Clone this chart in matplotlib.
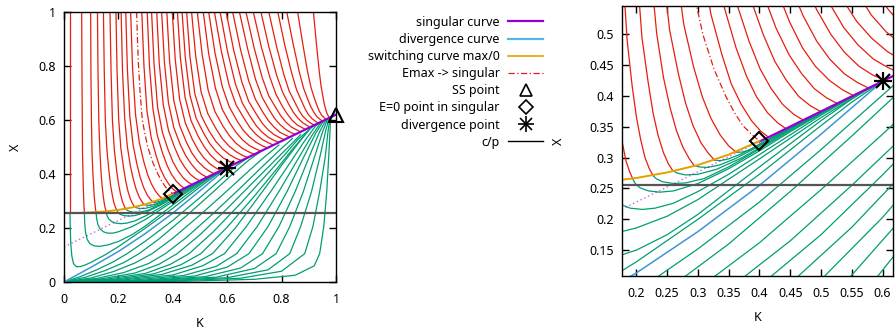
import matplotlib
matplotlib.use("Agg")
import matplotlib.pyplot as plt
from matplotlib.lines import Line2D
from matplotlib.legend_handler import HandlerTuple

plt.rcParams['font.family'] = ['Noto Sans', 'DejaVu Sans']
plt.rcParams['font.size'] = 9

RED = '#e51e10'
GREEN = '#009e73'
BLUE = '#3d95d6'
PURPLE = '#9400d3'
ORANGE = '#e69f00'

# ---- special curves (K, X) ----
singular_K = [0.0, 0.4, 0.6, 1.0]
singular_X = [0.13, 0.326, 0.424, 0.62]
divergence_K = [0.0, 0.1, 0.2, 0.3, 0.4, 0.5, 0.6]
divergence_X = [0.0, 0.055, 0.113, 0.18, 0.255, 0.338, 0.424]
switch_K = [0.022, 0.06, 0.1, 0.15, 0.2, 0.25, 0.3, 0.35, 0.4]
switch_X = [0.2555, 0.256, 0.258, 0.261, 0.267, 0.276, 0.288, 0.305, 0.327]
emax_K = [0.267, 0.27, 0.274, 0.28, 0.288, 0.298, 0.308, 0.326, 0.345, 0.36, 0.373, 0.388, 0.4]
emax_X = [1.0, 0.9, 0.8, 0.7, 0.6, 0.546, 0.5, 0.444, 0.4, 0.372, 0.352, 0.337, 0.327]
c_over_p = 0.2555

ss_point = (1.0, 0.62)
e0_point = (0.4, 0.327)
div_point = (0.6, 0.424)

# ---- red trajectories ending on the switching curve ----
red_switch = [
    [(0.022, 1.0), (0.022, 0.2555)],
    [(0.065, 1.0), (0.066, 0.78), (0.068, 0.48), (0.071, 0.35), (0.073, 0.29), (0.075, 0.256)],
    [(0.098, 1.0), (0.099, 0.777), (0.101, 0.592), (0.103, 0.481), (0.106, 0.406), (0.109, 0.354),
     (0.111, 0.317), (0.114, 0.288), (0.116, 0.269), (0.118, 0.258)],
    [(0.123, 1.0), (0.125, 0.778), (0.128, 0.594), (0.132, 0.483), (0.136, 0.409), (0.14, 0.357),
     (0.144, 0.32), (0.148, 0.291), (0.152, 0.272), (0.155, 0.261)],
    [(0.145, 1.0), (0.148, 0.78), (0.152, 0.596), (0.158, 0.486), (0.165, 0.413), (0.171, 0.361),
     (0.177, 0.325), (0.183, 0.295), (0.189, 0.277), (0.194, 0.266)],
    [(0.169, 1.0), (0.173, 0.781), (0.178, 0.599), (0.185, 0.49), (0.193, 0.417), (0.2, 0.366),
     (0.207, 0.329), (0.214, 0.3), (0.221, 0.282), (0.227, 0.271)],
    [(0.191, 1.0), (0.195, 0.784), (0.201, 0.603), (0.209, 0.495), (0.219, 0.423), (0.227, 0.373),
     (0.235, 0.337), (0.244, 0.308), (0.252, 0.29), (0.259, 0.279)],
    [(0.21, 1.0), (0.215, 0.786), (0.223, 0.608), (0.233, 0.501), (0.244, 0.43), (0.255, 0.38),
     (0.265, 0.344), (0.276, 0.316), (0.286, 0.298), (0.294, 0.287)],
    [(0.227, 1.0), (0.233, 0.789), (0.242, 0.613), (0.254, 0.507), (0.268, 0.437), (0.28, 0.388),
     (0.292, 0.352), (0.305, 0.324), (0.317, 0.307), (0.327, 0.296)],
    [(0.245, 1.0), (0.252, 0.793), (0.263, 0.62), (0.277, 0.516), (0.293, 0.447), (0.307, 0.399),
     (0.321, 0.364), (0.336, 0.337), (0.35, 0.319), (0.362, 0.309)],
]

# ---- red trajectories ending on the singular curve ----
red_singular = [
    [(0.286, 1.0), (0.294, 0.8), (0.305, 0.633), (0.321, 0.533), (0.339, 0.467), (0.354, 0.42),
     (0.37, 0.387), (0.387, 0.36), (0.402, 0.343), (0.415, 0.333)],
    [(0.306, 1.0), (0.314, 0.804), (0.327, 0.641), (0.343, 0.543), (0.362, 0.478), (0.379, 0.432),
     (0.395, 0.399), (0.413, 0.373), (0.429, 0.357), (0.443, 0.347)],
    [(0.322, 1.0), (0.331, 0.808), (0.344, 0.648), (0.362, 0.553), (0.383, 0.489), (0.401, 0.444),
     (0.419, 0.412), (0.438, 0.386), (0.456, 0.37), (0.471, 0.361)],
    [(0.341, 1.0), (0.35, 0.812), (0.365, 0.656), (0.384, 0.562), (0.406, 0.5), (0.425, 0.456),
     (0.444, 0.425), (0.464, 0.399), (0.483, 0.384), (0.499, 0.375)],
    [(0.359, 1.0), (0.369, 0.816), (0.384, 0.663), (0.404, 0.571), (0.427, 0.51), (0.448, 0.467),
     (0.468, 0.437), (0.489, 0.412), (0.509, 0.397), (0.526, 0.388)],
    [(0.378, 1.0), (0.388, 0.82), (0.404, 0.67), (0.425, 0.58), (0.449, 0.52), (0.47, 0.478),
     (0.491, 0.448), (0.514, 0.425), (0.535, 0.41), (0.552, 0.401)],
    [(0.398, 1.0), (0.409, 0.824), (0.425, 0.677), (0.446, 0.589), (0.471, 0.53), (0.493, 0.489),
     (0.514, 0.46), (0.538, 0.436), (0.559, 0.422), (0.577, 0.413)],
    [(0.417, 1.0), (0.428, 0.828), (0.445, 0.684), (0.467, 0.598), (0.493, 0.54), (0.516, 0.5),
     (0.538, 0.471), (0.562, 0.448), (0.584, 0.434), (0.603, 0.426)],
    [(0.434, 1.0), (0.446, 0.831), (0.463, 0.691), (0.486, 0.606), (0.514, 0.55), (0.537, 0.511),
     (0.56, 0.483), (0.585, 0.46), (0.609, 0.446), (0.628, 0.438)],
    [(0.451, 1.0), (0.463, 0.835), (0.481, 0.697), (0.505, 0.615), (0.533, 0.56), (0.558, 0.521),
     (0.582, 0.494), (0.608, 0.472), (0.632, 0.458), (0.652, 0.45)],
    [(0.469, 1.0), (0.484, 0.838), (0.504, 0.704), (0.529, 0.623), (0.558, 0.569), (0.582, 0.531),
     (0.606, 0.504), (0.632, 0.483), (0.656, 0.469), (0.676, 0.461)],
    [(0.49, 1.0), (0.508, 0.842), (0.53, 0.71), (0.555, 0.631), (0.584, 0.578), (0.608, 0.542),
     (0.631, 0.515), (0.657, 0.494), (0.681, 0.481), (0.7, 0.473)],
    [(0.512, 1.0), (0.532, 0.845), (0.557, 0.717), (0.582, 0.639), (0.61, 0.588), (0.634, 0.552),
     (0.657, 0.526), (0.682, 0.505), (0.705, 0.493), (0.724, 0.485)],
    [(0.532, 1.0), (0.555, 0.849), (0.582, 0.723), (0.608, 0.648), (0.636, 0.597), (0.659, 0.562),
     (0.682, 0.537), (0.707, 0.517), (0.73, 0.504), (0.748, 0.497)],
    [(0.553, 1.0), (0.579, 0.852), (0.607, 0.729), (0.633, 0.655), (0.662, 0.606), (0.684, 0.571),
     (0.706, 0.547), (0.73, 0.527), (0.753, 0.515), (0.77, 0.507)],
    [(0.574, 1.0), (0.601, 0.855), (0.63, 0.734), (0.656, 0.662), (0.684, 0.614), (0.706, 0.58),
     (0.727, 0.556), (0.751, 0.536), (0.773, 0.524), (0.79, 0.517)],
    [(0.596, 1.0), (0.624, 0.858), (0.654, 0.74), (0.679, 0.669), (0.707, 0.622), (0.729, 0.588),
     (0.749, 0.565), (0.772, 0.546), (0.794, 0.534), (0.81, 0.527)],
    [(0.62, 1.0), (0.649, 0.861), (0.679, 0.745), (0.704, 0.676), (0.731, 0.629), (0.752, 0.597),
     (0.772, 0.574), (0.793, 0.555), (0.814, 0.544), (0.83, 0.537)],
    [(0.645, 1.0), (0.675, 0.864), (0.704, 0.751), (0.729, 0.683), (0.755, 0.637), (0.775, 0.605),
     (0.794, 0.583), (0.815, 0.565), (0.835, 0.553), (0.85, 0.547)],
    [(0.669, 1.0), (0.699, 0.867), (0.729, 0.756), (0.753, 0.689), (0.779, 0.645), (0.798, 0.614),
     (0.816, 0.592), (0.836, 0.574), (0.856, 0.563), (0.87, 0.556)],
    [(0.696, 1.0), (0.726, 0.869), (0.756, 0.761), (0.779, 0.696), (0.802, 0.652), (0.821, 0.622),
     (0.838, 0.6), (0.857, 0.582), (0.875, 0.572), (0.888, 0.565)],
    [(0.724, 1.0), (0.753, 0.872), (0.782, 0.765), (0.804, 0.702), (0.826, 0.659), (0.843, 0.629),
     (0.859, 0.608), (0.876, 0.591), (0.893, 0.58), (0.905, 0.574)],
    [(0.753, 1.0), (0.781, 0.874), (0.808, 0.769), (0.828, 0.707), (0.849, 0.665), (0.864, 0.635),
     (0.878, 0.614), (0.894, 0.598), (0.909, 0.587), (0.92, 0.581)],
    [(0.786, 1.0), (0.812, 0.876), (0.837, 0.774), (0.855, 0.712), (0.873, 0.671), (0.886, 0.642),
     (0.898, 0.621), (0.912, 0.605), (0.926, 0.594), (0.935, 0.588)],
    [(0.819, 1.0), (0.843, 0.879), (0.865, 0.778), (0.881, 0.717), (0.896, 0.677), (0.908, 0.648),
     (0.919, 0.628), (0.93, 0.612), (0.942, 0.602), (0.95, 0.596)],
    [(0.859, 1.0), (0.878, 0.881), (0.895, 0.781), (0.908, 0.721), (0.92, 0.682), (0.93, 0.654),
     (0.938, 0.634), (0.947, 0.618), (0.957, 0.608), (0.963, 0.602)],
    [(0.917, 1.0), (0.928, 0.882), (0.938, 0.784), (0.945, 0.726), (0.952, 0.686), (0.957, 0.659),
     (0.962, 0.64), (0.967, 0.624), (0.972, 0.614), (0.976, 0.608)],
]

# ---- green trajectories leaving the switching curve ----
green_dip = [
    [(0.022, 0.2555), (0.023, 0.2), (0.025, 0.14), (0.029, 0.095), (0.035, 0.068), (0.045, 0.057),
     (0.06, 0.057), (0.08, 0.064), (0.1, 0.073), (0.15, 0.1), (0.2, 0.131), (0.3, 0.2),
     (0.4, 0.273), (0.5, 0.352), (0.55, 0.39), (0.6, 0.424)],
    [(0.075, 0.256), (0.076, 0.22), (0.079, 0.185), (0.085, 0.158), (0.095, 0.142), (0.11, 0.134),
     (0.13, 0.132), (0.16, 0.137), (0.2, 0.15), (0.25, 0.175), (0.3, 0.208), (0.4, 0.285),
     (0.5, 0.36), (0.55, 0.395), (0.59, 0.419)],
    [(0.118, 0.258), (0.12, 0.235), (0.125, 0.212), (0.133, 0.196), (0.145, 0.186), (0.16, 0.181),
     (0.18, 0.181), (0.2, 0.186), (0.25, 0.205), (0.3, 0.232), (0.4, 0.298), (0.5, 0.365), (0.58, 0.414)],
    [(0.155, 0.261), (0.158, 0.246), (0.165, 0.233), (0.175, 0.224), (0.19, 0.218), (0.21, 0.216),
     (0.23, 0.218), (0.26, 0.226), (0.3, 0.245), (0.35, 0.273), (0.4, 0.305), (0.5, 0.369), (0.57, 0.409)],
    [(0.194, 0.266), (0.198, 0.258), (0.206, 0.251), (0.22, 0.246), (0.238, 0.244), (0.26, 0.246),
     (0.3, 0.258), (0.35, 0.282), (0.4, 0.311), (0.45, 0.342), (0.5, 0.371), (0.56, 0.404)],
    [(0.227, 0.271), (0.232, 0.266), (0.242, 0.261), (0.26, 0.258), (0.28, 0.259), (0.31, 0.266),
     (0.35, 0.285), (0.4, 0.314), (0.45, 0.344), (0.5, 0.372), (0.55, 0.399)],
    [(0.259, 0.279), (0.266, 0.275), (0.28, 0.272), (0.3, 0.273), (0.33, 0.281), (0.37, 0.299),
     (0.4, 0.316), (0.45, 0.346), (0.5, 0.373), (0.54, 0.394)],
    [(0.294, 0.287), (0.302, 0.285), (0.315, 0.284), (0.335, 0.288), (0.36, 0.298), (0.4, 0.319),
     (0.45, 0.347), (0.5, 0.374), (0.53, 0.389)],
    [(0.327, 0.296), (0.336, 0.295), (0.35, 0.298), (0.37, 0.306), (0.4, 0.321), (0.45, 0.348), (0.52, 0.384)],
    [(0.362, 0.309), (0.372, 0.309), (0.385, 0.313), (0.4, 0.322), (0.45, 0.349), (0.51, 0.379)],
]

# ---- green trajectories from the origin (below the divergence curve) ----
green_fan = [
    [(0, 0), (0.06, 0.02), (0.12, 0.045), (0.18, 0.074), (0.232, 0.105), (0.3, 0.152), (0.4, 0.228),
     (0.5, 0.313), (0.57, 0.375), (0.63, 0.428), (0.68, 0.4632)],
    [(0, 0), (0.08, 0.018), (0.15, 0.042), (0.22, 0.072), (0.276, 0.105), (0.35, 0.16), (0.45, 0.245),
     (0.55, 0.335), (0.62, 0.4), (0.68, 0.452), (0.73, 0.4877)],
    [(0, 0), (0.1, 0.015), (0.18, 0.038), (0.26, 0.07), (0.324, 0.105), (0.4, 0.162), (0.5, 0.248),
     (0.6, 0.338), (0.68, 0.412), (0.74, 0.466), (0.79, 0.5071)],
    [(0, 0), (0.12, 0.013), (0.22, 0.035), (0.31, 0.068), (0.373, 0.105), (0.45, 0.165), (0.55, 0.255),
     (0.65, 0.35), (0.73, 0.428), (0.79, 0.486), (0.84, 0.5316)],
    [(0, 0), (0.14, 0.012), (0.26, 0.033), (0.35, 0.066), (0.416, 0.105), (0.5, 0.175), (0.6, 0.272),
     (0.7, 0.374), (0.78, 0.455), (0.84, 0.515), (0.87, 0.5463)],
    [(0, 0), (0.16, 0.011), (0.3, 0.032), (0.39, 0.065), (0.46, 0.105), (0.55, 0.187), (0.65, 0.292),
     (0.74, 0.392), (0.81, 0.47), (0.86, 0.528), (0.895, 0.5586)],
    [(0, 0), (0.18, 0.01), (0.33, 0.03), (0.43, 0.064), (0.503, 0.105), (0.6, 0.203), (0.7, 0.318),
     (0.78, 0.416), (0.84, 0.492), (0.89, 0.55), (0.915, 0.5784)],
    [(0, 0), (0.2, 0.009), (0.36, 0.028), (0.47, 0.062), (0.546, 0.105), (0.63, 0.2), (0.72, 0.322),
     (0.8, 0.432), (0.86, 0.512), (0.905, 0.57), (0.93, 0.5857)],
    [(0, 0), (0.22, 0.008), (0.4, 0.026), (0.51, 0.06), (0.59, 0.105), (0.67, 0.205), (0.76, 0.335),
     (0.83, 0.44), (0.885, 0.523), (0.925, 0.578), (0.942, 0.5916)],
    [(0, 0), (0.25, 0.007), (0.44, 0.024), (0.56, 0.058), (0.635, 0.105), (0.71, 0.205), (0.79, 0.335),
     (0.86, 0.455), (0.91, 0.54), (0.94, 0.585), (0.952, 0.5965)],
    [(0, 0), (0.28, 0.006), (0.48, 0.022), (0.6, 0.055), (0.68, 0.105), (0.75, 0.205), (0.82, 0.335),
     (0.88, 0.46), (0.925, 0.55), (0.95, 0.59), (0.96, 0.6004)],
    [(0, 0), (0.3, 0.005), (0.52, 0.02), (0.65, 0.052), (0.73, 0.105), (0.79, 0.205), (0.85, 0.335),
     (0.9, 0.46), (0.94, 0.557), (0.962, 0.598), (0.966, 0.6033)],
    [(0, 0), (0.32, 0.005), (0.56, 0.018), (0.7, 0.05), (0.78, 0.105), (0.83, 0.205), (0.88, 0.335),
     (0.92, 0.46), (0.952, 0.56), (0.968, 0.6), (0.971, 0.6058)],
    [(0, 0), (0.35, 0.004), (0.6, 0.016), (0.75, 0.045), (0.83, 0.105), (0.87, 0.205), (0.91, 0.335),
     (0.94, 0.46), (0.962, 0.56), (0.973, 0.6), (0.975, 0.6078)],
    [(0, 0), (0.4, 0.004), (0.65, 0.014), (0.8, 0.04), (0.885, 0.105), (0.915, 0.205), (0.94, 0.335),
     (0.96, 0.46), (0.971, 0.56), (0.977, 0.6), (0.978, 0.6092)],
    [(0, 0), (0.45, 0.003), (0.7, 0.01), (0.85, 0.025), (0.92, 0.06), (0.94, 0.105), (0.955, 0.205),
     (0.966, 0.335), (0.973, 0.46), (0.978, 0.56), (0.98, 0.6102)],
]

left_ticks = [0, 0.2, 0.4, 0.6, 0.8, 1]
left_ticklabels = ['0', '0.2', '0.4', '0.6', '0.8', '1']
right_xticks = [0.2, 0.25, 0.3, 0.35, 0.4, 0.45, 0.5, 0.55, 0.6]
right_xticklabels = ['0.2', '0.25', '0.3', '0.35', '0.4', '0.45', '0.5', '0.55', '0.6']
right_yticks = [0.15, 0.2, 0.25, 0.3, 0.35, 0.4, 0.45, 0.5]
right_yticklabels = ['0.15', '0.2', '0.25', '0.3', '0.35', '0.4', '0.45', '0.5']

legend_labels = ["singular curve", "divergence curve", "switching curve max/0", "Emax -> singular",
                 "SS point", "E=0 point in singular", "divergence point", "c/p"]


def draw(ax, show_ss):
    for c in green_fan + green_dip:
        k, x = zip(*c)
        ax.plot(k, x, color=GREEN, lw=0.9)
    for c in red_switch + red_singular:
        k, x = zip(*c)
        ax.plot(k, x, color=RED, lw=0.9)
    ax.plot(singular_K[:2], singular_X[:2], color=PURPLE, lw=1.0, ls=(0, (1, 2)), alpha=0.6)
    ax.plot(singular_K[1:], singular_X[1:], color=PURPLE, lw=1.6)
    ax.plot(divergence_K, divergence_X, color=BLUE, lw=1.1)
    ax.plot(switch_K, switch_X, color=ORANGE, lw=1.4)
    ax.plot(emax_K, emax_X, color=RED, lw=0.9, ls=(0, (5, 2, 1, 2)))
    ax.axhline(c_over_p, color='#555555', lw=1.6)
    if show_ss:
        ax.plot(*ss_point, marker='^', ms=10, mfc='none', mec='k', mew=1.5, clip_on=False, zorder=5)
    ax.plot(*e0_point, marker='D', ms=9, mfc='none', mec='k', mew=1.5, zorder=5)
    ax.plot(*div_point, marker='+', ms=13, mec='k', mew=1.6, zorder=5)
    ax.plot(*div_point, marker='x', ms=10, mec='k', mew=1.6, zorder=5)
    ax.tick_params(direction='in', top=True, right=True, length=5, width=1)
    for s in ax.spines.values():
        s.set_linewidth(1.0)
    ax.set_xlabel("K", labelpad=8)


fig = plt.figure(figsize=(8.96, 3.36), dpi=100)

axL = fig.add_axes([64 / 896, 1 - 282 / 336, 272 / 896, 270 / 336])
draw(axL, True)
axL.set_xlim(0, 1)
axL.set_ylim(0, 1)
axL.set_xticks(left_ticks, left_ticklabels)
axL.set_yticks(left_ticks, left_ticklabels)
axL.tick_params(axis='x', pad=8)
axL.tick_params(axis='y', pad=6)
axL.set_ylabel("X", labelpad=12)

axR = fig.add_axes([622 / 896, 1 - 276 / 336, 271 / 896, 270 / 336])
draw(axR, False)
axR.set_xlim(0.1766, 0.617)
axR.set_ylim(0.108, 0.546)
axR.set_xticks(right_xticks, right_xticklabels)
axR.set_yticks(right_yticks, right_yticklabels)
axR.tick_params(axis='x', pad=8)
axR.tick_params(axis='y', pad=6)
axR.set_ylabel("X", labelpad=17)

handles = [
    Line2D([], [], color=PURPLE, lw=1.6),
    Line2D([], [], color='#56b4e9', lw=1.6),
    Line2D([], [], color=ORANGE, lw=1.2),
    Line2D([], [], color=RED, lw=0.9, ls=(0, (5, 2, 1, 2))),
    Line2D([], [], ls='none', marker='^', ms=9, mfc='none', mec='k', mew=1.2),
    Line2D([], [], ls='none', marker='D', ms=7, mfc='none', mec='k', mew=1.2),
    (Line2D([], [], ls='none', marker='+', ms=11, mec='k', mew=1.2),
     Line2D([], [], ls='none', marker='x', ms=8, mec='k', mew=1.2)),
    Line2D([], [], color='k', lw=1.0),
]
fig.legend(handles, legend_labels, loc='upper right', bbox_to_anchor=(552 / 896, 1 - 7 / 336),
           frameon=False, markerfirst=False, handlelength=2.8, handletextpad=0.7,
           labelspacing=0.33, borderpad=0.2, handler_map={tuple: HandlerTuple(ndivide=1)})

fig.savefig("out.png", dpi=100)
